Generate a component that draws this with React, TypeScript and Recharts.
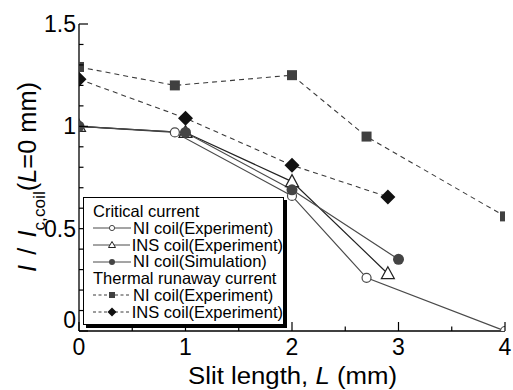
import React from 'react';
import { LineChart, Line, XAxis, YAxis, Legend } from 'recharts';

const niExpX = [0, 0.9, 2, 2.7, 4];
const niExpY = [1.0, 0.97, 0.66, 0.26, 0];
const insExpX = [0, 1, 2, 2.9];
const insExpY = [1.0, 0.97, 0.73, 0.28];
const niSimX = [0, 1, 2, 3];
const niSimY = [1.0, 0.97, 0.69, 0.35];
const niRunawayX = [0, 0.9, 2, 2.7, 4];
const niRunawayY = [1.29, 1.2, 1.25, 0.95, 0.56];
const insRunawayX = [0, 1, 2, 2.9];
const insRunawayY = [1.23, 1.04, 0.81, 0.655];

const xTicks = [0, 0.5, 1, 1.5, 2, 2.5, 3, 3.5, 4];
const yTicks = [0, 0.1, 0.2, 0.3, 0.4, 0.5, 0.6, 0.7, 0.8, 0.9, 1, 1.1, 1.2, 1.3, 1.4, 1.5];

const toPoints = (xs: number[], ys: number[]) => xs.map((x, i) => ({ x, y: ys[i] }));

const FONT = '"Liberation Sans", Arial, sans-serif';
const SOLID = '#4a4a4a';
const DASH = '#3a3a3a';

const isMajorX = (v: number) => Math.abs(v - Math.round(v)) < 1e-6;
const isMajorY = (v: number) => Math.abs(v * 2 - Math.round(v * 2)) < 1e-6;

const BottomTick = (props: any) => {
  const { x, y, payload } = props;
  const major = isMajorX(payload.value);
  return (
    <g>
      <line x1={x} x2={x} y1={y} y2={y - (major ? 9 : 4.5)} stroke="#000" strokeWidth={1.2} />
      {major && (
        <text x={x} y={y + 24} textAnchor="middle" fontSize={23} fontFamily={FONT} fill="#000">
          {payload.value}
        </text>
      )}
    </g>
  );
};

const TopTick = (props: any) => {
  const { x, y, payload } = props;
  const major = isMajorX(payload.value);
  return <line x1={x} x2={x} y1={y} y2={y + (major ? 9 : 4.5)} stroke="#000" strokeWidth={1.2} />;
};

const LeftTick = (props: any) => {
  const { x, y, payload } = props;
  const major = isMajorY(payload.value);
  const v = payload.value;
  return (
    <g>
      <line x1={x} x2={x + (major ? 9 : 4.5)} y1={y} y2={y} stroke="#000" strokeWidth={1.2} />
      {major && (
        <text
          x={x - 3}
          y={v === 0 ? y - 3 : y + 8}
          textAnchor="end"
          fontSize={23}
          fontFamily={FONT}
          fill="#000"
        >
          {String(Math.round(v * 10) / 10)}
        </text>
      )}
    </g>
  );
};

const RightTick = (props: any) => {
  const { x, y, payload } = props;
  const major = isMajorY(payload.value);
  return <line x1={x} x2={x - (major ? 9 : 4.5)} y1={y} y2={y} stroke="#000" strokeWidth={1.2} />;
};

const OpenCircle = (p: any) => (
  <circle key={`oc-${p.index}`} cx={p.cx} cy={p.cy} r={4.5} fill="#fff" stroke={SOLID} strokeWidth={1.2} />
);
const OpenTriangle = (p: any) => (
  <polygon
    key={`tr-${p.index}`}
    points={`${p.cx},${p.cy - 7} ${p.cx - 6.5},${p.cy + 5} ${p.cx + 6.5},${p.cy + 5}`}
    fill="#fff"
    stroke="#222"
    strokeWidth={1.2}
  />
);
const FilledCircle = (p: any) => <circle key={`fc-${p.index}`} cx={p.cx} cy={p.cy} r={5.5} fill="#444" />;
const FilledSquare = (p: any) => (
  <rect key={`sq-${p.index}`} x={p.cx - 5} y={p.cy - 5} width={10} height={10} fill="#404040" />
);
const FilledDiamond = (p: any) => (
  <polygon
    key={`dm-${p.index}`}
    points={`${p.cx},${p.cy - 7.5} ${p.cx + 7.5},${p.cy} ${p.cx},${p.cy + 7.5} ${p.cx - 7.5},${p.cy}`}
    fill="#111"
  />
);

const legendRows = [
  { kind: 'header', text: 'Critical current' },
  { kind: 'oc', text: 'NI coil(Experiment)' },
  { kind: 'tr', text: 'INS coil(Experiment)' },
  { kind: 'fc', text: 'NI coil(Simulation)' },
  { kind: 'header', text: 'Thermal runaway current' },
  { kind: 'sq', text: 'NI coil(Experiment)' },
  { kind: 'dm', text: 'INS coil(Experiment)' },
];

const LegendSample = ({ kind }: { kind: string }) => {
  const dashed = kind === 'sq' || kind === 'dm';
  return (
    <svg width={38} height={12} style={{ display: 'block', marginRight: 2 }}>
      <line
        x1={0}
        x2={38}
        y1={6}
        y2={6}
        stroke={dashed ? DASH : SOLID}
        strokeWidth={1}
        strokeDasharray={dashed ? '3 2.5' : undefined}
      />
      {kind === 'oc' && <circle cx={19} cy={6} r={2.6} fill="#fff" stroke={SOLID} strokeWidth={1} />}
      {kind === 'tr' && <polygon points="19,2.5 15.5,8.5 22.5,8.5" fill="#fff" stroke="#222" strokeWidth={1} />}
      {kind === 'fc' && <circle cx={19} cy={6} r={3} fill="#444" />}
      {kind === 'sq' && <rect x={16} y={3} width={6} height={6} fill="#404040" />}
      {kind === 'dm' && <polygon points="19,1.5 23.5,6 19,10.5 14.5,6" fill="#111" />}
    </svg>
  );
};

const LegendBox = () => (
  <div
    style={{
      border: '1px solid #000',
      boxShadow: '3px 3px 0 #000',
      background: '#fff',
      padding: '5px 0 3px 9px',
      fontFamily: FONT,
      fontSize: 16.5,
      color: '#000',
      width: 190,
      boxSizing: 'content-box',
    }}
  >
    {legendRows.map((r, i) => (
      <div key={i} style={{ display: 'flex', alignItems: 'center', height: 16.8, whiteSpace: 'nowrap' }}>
        {r.kind !== 'header' && <LegendSample kind={r.kind} />}
        <span>{r.text}</span>
      </div>
    ))}
  </div>
);

const YLabel = () => (
  <text
    transform="translate(36,177) rotate(-90)"
    textAnchor="middle"
    fontFamily={FONT}
    fontSize={25}
    fill="#000"
    textLength={190}
    lengthAdjust="spacingAndGlyphs"
  >
    <tspan fontStyle="italic">I</tspan>
    <tspan dx={10}>/</tspan>
    <tspan dx={10} fontStyle="italic">I</tspan>
    <tspan fontSize={17} dy={9}>c,coil</tspan>
    <tspan dy={-9}>(</tspan>
    <tspan fontStyle="italic">L</tspan>
    <tspan>=0 mm)</tspan>
  </text>
);

const XLabel = () => (
  <text
    x={188}
    y={384}
    fontFamily={FONT}
    fontSize={23}
    fill="#000"
    textLength={209}
    lengthAdjust="spacingAndGlyphs"
  >
    <tspan>Slit length, </tspan>
    <tspan fontStyle="italic">L</tspan>
    <tspan> (mm)</tspan>
  </text>
);

export default function App() {
  return (
    <div style={{ position: 'absolute', left: 0, top: 0, background: '#fff' }}>
      <LineChart width={513} height={390} margin={{ top: 24, right: 8, bottom: 0, left: 0 }}>
        <XAxis
          dataKey="x"
          type="number"
          domain={[0, 4]}
          ticks={xTicks}
          height={59}
          tickSize={0}
          tickMargin={0}
          tickLine={false}
          tick={<BottomTick />}
          axisLine={{ stroke: '#000', strokeWidth: 1.3 }}
          interval={0}
          allowDataOverflow
          label={{ content: () => <XLabel /> }}
        />
        <XAxis
          xAxisId="top"
          orientation="top"
          type="number"
          domain={[0, 4]}
          ticks={xTicks}
          height={0}
          tickSize={0}
          tickMargin={0}
          tickLine={false}
          tick={<TopTick />}
          axisLine={{ stroke: '#000', strokeWidth: 1.3 }}
          interval={0}
        />
        <YAxis
          type="number"
          domain={[0, 1.5]}
          ticks={yTicks}
          width={79}
          tickSize={0}
          tickMargin={0}
          tickLine={false}
          tick={<LeftTick />}
          axisLine={{ stroke: '#000', strokeWidth: 1.3 }}
          interval={0}
          allowDataOverflow
          label={{ content: () => <YLabel /> }}
        />
        <YAxis
          yAxisId="right"
          orientation="right"
          type="number"
          domain={[0, 1.5]}
          ticks={yTicks}
          width={0}
          tickSize={0}
          tickMargin={0}
          tickLine={false}
          tick={<RightTick />}
          axisLine={{ stroke: '#000', strokeWidth: 1.3 }}
          interval={0}
        />
        <Legend
          layout="vertical"
          align="center"
          verticalAlign="middle"
          wrapperStyle={{ left: 83, top: 197, width: 'auto' }}
          content={() => <LegendBox />}
        />
        <Line
          data={toPoints(niRunawayX, niRunawayY)}
          dataKey="y"
          stroke={DASH}
          strokeWidth={1.1}
          strokeDasharray="5 4"
          dot={FilledSquare}
          isAnimationActive={false}
        />
        <Line
          data={toPoints(insRunawayX, insRunawayY)}
          dataKey="y"
          stroke={DASH}
          strokeWidth={1.1}
          strokeDasharray="5 4"
          dot={FilledDiamond}
          isAnimationActive={false}
        />
        <Line
          data={toPoints(niExpX, niExpY)}
          dataKey="y"
          stroke={SOLID}
          strokeWidth={1.2}
          dot={OpenCircle}
          isAnimationActive={false}
        />
        <Line
          data={toPoints(insExpX, insExpY)}
          dataKey="y"
          stroke="#222"
          strokeWidth={1.2}
          dot={OpenTriangle}
          isAnimationActive={false}
        />
        <Line
          data={toPoints(niSimX, niSimY)}
          dataKey="y"
          stroke={SOLID}
          strokeWidth={1.2}
          dot={FilledCircle}
          isAnimationActive={false}
        />
      </LineChart>
    </div>
  );
}
